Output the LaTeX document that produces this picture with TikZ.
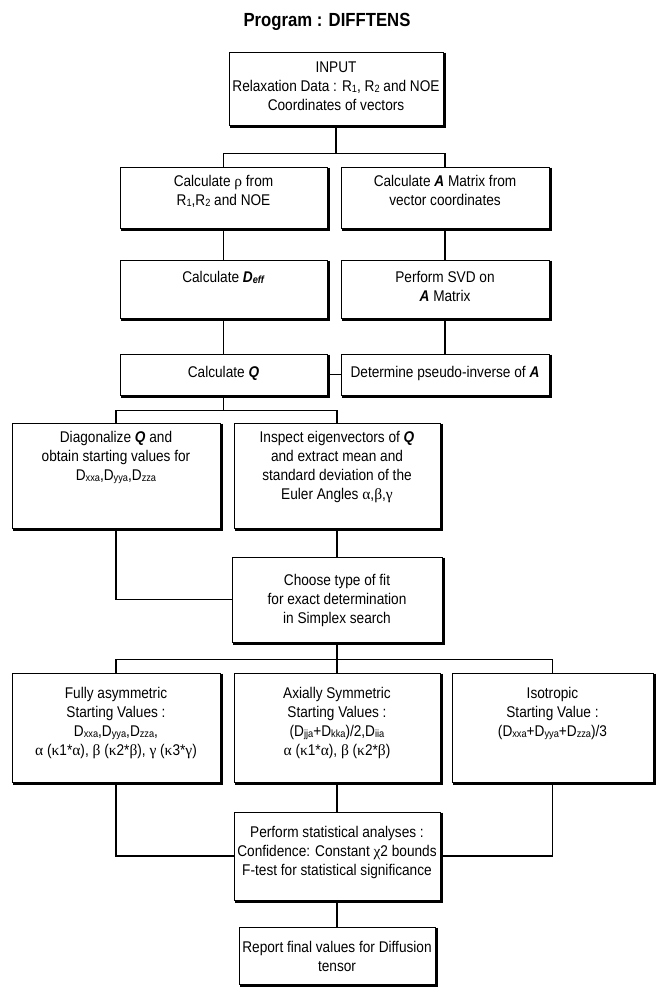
\documentclass[tikz,border=0pt]{standalone}
\usepackage{fontspec}
\setmainfont[FakeStretch=0.88]{Liberation Sans}
\newfontfamily\grk{Liberation Serif}
\newcommand\sbs[1]{\raisebox{-0.8pt}{\fontsize{10.5}{10.5}\selectfont #1}}
\newcommand\gk[1]{{\grk #1}}
\tikzset{
  boxst/.style={draw=black, line width=0.9pt, fill=white, inner sep=0pt},
  shadowst/.style={line width=1.6pt},
  txtst/.style={align=center, inner sep=0pt, font=\fontsize{15.5}{19}\selectfont},
  conn/.style={line width=1.3pt}
}
\newcommand\flowbox[7]{%
  \node[boxst, minimum width={#4-#2}, minimum height={#5-#3}] (#1) at ({(#2+#4)/2},{(#3+#5)/2}) {};
  \draw[shadowst] ([xshift=1.3pt,yshift=-1pt]#1.north east) -- ([xshift=1.3pt,yshift=-1.3pt]#1.south east) -- ([xshift=1pt,yshift=-1.3pt]#1.south west);
  \node[txtst, anchor=north] (#1t) at ([yshift={-(#6-5.5)}]#1.north) {#7};
}
\begin{document}
\begin{tikzpicture}[x=1pt,y=-1pt]
\useasboundingbox (0,0) rectangle (656,987);
\node[font=\bfseries\fontsize{19}{20}\selectfont] (title) at (327,22) {Program : DIFFTENS};

\flowbox{input}{229}{52}{443}{125}{16}{INPUT\\Relaxation Data : R\sbs{1}, R\sbs{2} and NOE\\Coordinates of vectors}
\flowbox{rho}{120}{167}{327}{228}{14}{Calculate \gk{ρ} from\\R\sbs{1},R\sbs{2} and NOE}
\flowbox{amat}{341}{167}{549}{228}{14}{Calculate \textbf{\textit{A}} Matrix from\\vector coordinates}
\flowbox{deff}{120}{260}{327}{318}{17}{Calculate \textbf{\textit{D}}\sbs{\textbf{\textit{eff}}}}
\flowbox{svd}{341}{260}{549}{318}{17}{Perform SVD on\\\textbf{\textit{A}} Matrix}
\flowbox{calcq}{120}{354}{327}{395}{18}{Calculate \textbf{\textit{Q}}}
\flowbox{pinv}{341}{354}{549}{395}{18}{Determine pseudo-inverse of \textbf{\textit{A}}}
\flowbox{diag}{12}{423}{220}{528}{14}{Diagonalize \textbf{\textit{Q}} and\\obtain starting values for\\D\sbs{xxa},D\sbs{yya},D\sbs{zza}}
\flowbox{insp}{234}{423}{440}{528}{14}{Inspect eigenvectors of \textbf{\textit{Q}}\\and extract mean and\\standard deviation of the\\Euler Angles \gk{α},\gk{β},\gk{γ}}
\flowbox{choose}{232}{557}{442}{642}{23}{Choose type of fit\\for exact determination\\in Simplex search}
\flowbox{fully}{12}{673}{220}{782}{20}{Fully asymmetric\\Starting Values :\\D\sbs{xxa},D\sbs{yya},D\sbs{zza},\\\gk{α} (\gk{κ}1*\gk{α}), \gk{β} (\gk{κ}2*\gk{β}), \gk{γ} (\gk{κ}3*\gk{γ})}
\flowbox{axial}{234}{673}{440}{782}{20}{Axially Symmetric\\Starting Values :\\(D\sbs{jja}+D\sbs{kka})/2,D\sbs{iia}\\\gk{α} (\gk{κ}1*\gk{α}), \gk{β} (\gk{κ}2*\gk{β})}
\flowbox{iso}{452}{673}{653}{782}{20}{Isotropic\\Starting Value :\\(D\sbs{xxa}+D\sbs{yya}+D\sbs{zza})/3}
\flowbox{stat}{234}{812}{440}{900}{20}{Perform statistical analyses :\\Confidence: Constant \gk{χ}2 bounds\\F-test for statistical significance}
\flowbox{report}{239}{927}{435}{984}{20}{Report final values for Diffusion\\tensor}

\begin{scope}[conn]
\draw (input.south) -- ++(0,28) coordinate (j1);
\draw (rho.north) |- (j1) -| (amat.north);
\draw (rho.south) -- (deff.north);
\draw (amat.south) -- (svd.north);
\draw (deff.south) -- (calcq.north);
\draw (svd.south) -- (pinv.north);
\draw (calcq.east) -- (pinv.west);
\draw (calcq.south) -- ++(0,15) coordinate (j2);
\draw (diag.north) |- (j2) -| (insp.north);
\draw (insp.south) -- (choose.north);
\draw (diag.south) |- (choose.west);
\draw (choose.south) -- ++(0,17) coordinate (j3);
\draw (fully.north) |- (j3) -| (iso.north);
\draw (j3) -- (axial.north);
\draw (axial.south) -- (stat.north);
\draw (fully.south) |- (stat.west);
\draw (iso.south) |- (stat.east);
\draw (stat.south) -- (report.north);
\end{scope}
\end{tikzpicture}
\end{document}
